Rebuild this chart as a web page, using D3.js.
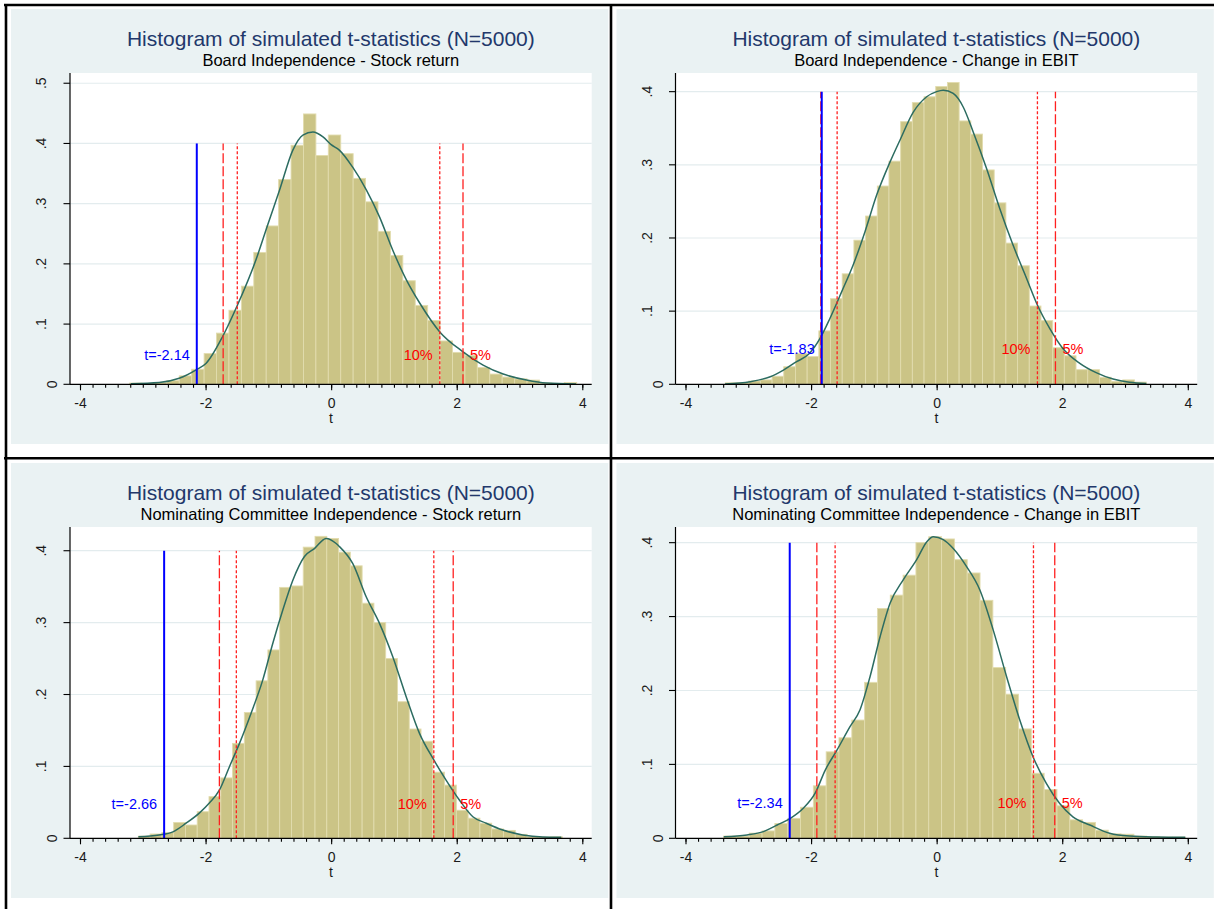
<!DOCTYPE html>
<html>
<head>
<meta charset="utf-8">
<script src="https://cdn.jsdelivr.net/npm/d3@7"></script>
<style>
body { margin: 0; background: #fff; }
svg { display: block; font-family: Arial, "Liberation Sans", Helvetica, sans-serif; }
</style>
</head>
<body>
<div class="container"></div>
<script>
const W = 1214, H = 909;

const title = 'Histogram of simulated t-statistics (N=5000)';
const subtitles = [
    'Board Independence - Stock return',
    'Board Independence - Change in EBIT',
    'Nominating Committee Independence - Stock return',
    'Nominating Committee Independence - Change in EBIT',
];
const xTicks = [-4, -2, 0, 2, 4];
const yTicks = [
    [0, .1, .2, .3, .4, .5],
    [0, .1, .2, .3, .4],
    [0, .1, .2, .3, .4],
    [0, .1, .2, .3, .4],
];
const yMax = [0.517, 0.4255, 0.433, 0.4212];

// histogram bins (36 per panel): left edge of first bin and bin width, in t units
const binStart = [-3.21, -3.366, -3.071, -3.393];
const binWidth = [0.1978, 0.1862, 0.1876, 0.2042];

const densBoardRet = [0.002, 0.001, 0.003, 0.006, 0.014, 0.025, 0.051, 0.085, 0.123, 0.163, 0.219, 0.263,
    0.340, 0.397, 0.449, 0.380, 0.414, 0.383, 0.342, 0.303, 0.254, 0.214, 0.172, 0.131,
    0.106, 0.072, 0.053, 0.048, 0.028, 0.017, 0.012, 0.009, 0.007, 0.002, 0.001, 0.003];
const densBoardEbit = [0.002, 0.002, 0.0045, 0.006, 0.011, 0.024, 0.042, 0.038, 0.073, 0.117, 0.151, 0.197,
    0.230, 0.271, 0.305, 0.359, 0.385, 0.393, 0.407, 0.4125, 0.360, 0.342, 0.293, 0.248,
    0.193, 0.162, 0.107, 0.087, 0.050, 0.039, 0.020, 0.020, 0.0096, 0.004, 0.006, 0.003];
const densNomRet = [0.003, 0.006, 0.008, 0.022, 0.0185, 0.037, 0.058, 0.084, 0.132, 0.175, 0.219, 0.262,
    0.349, 0.351, 0.405, 0.420, 0.417, 0.398, 0.379, 0.327, 0.300, 0.250, 0.190, 0.152,
    0.135, 0.092, 0.074, 0.039, 0.028, 0.021, 0.013, 0.011, 0.0055, 0.002, 0.0015, 0.002];
const densNomEbit = [0.003, 0.003, 0.007, 0.010, 0.020, 0.027, 0.042, 0.071, 0.117, 0.136, 0.160, 0.211,
    0.311, 0.329, 0.356, 0.400, 0.408, 0.405, 0.377, 0.359, 0.322, 0.231, 0.195, 0.148,
    0.088, 0.066, 0.044, 0.025, 0.0215, 0.011, 0.006, 0.0055, 0.003, 0.002, 0.0015, 0.0015];

// kernel density curves as [t, density]
const kdeBoardRet = [[-3.19, 0.001], [-2.74, 0.003], [-2.42, 0.010], [-2.15, 0.024], [-1.99, 0.035],
    [-1.73, 0.079], [-1.49, 0.132], [-1.20, 0.206], [-1.01, 0.265], [-0.82, 0.323], [-0.61, 0.389],
    [-0.45, 0.414], [-0.29, 0.419], [-0.13, 0.411], [0.0, 0.398], [0.13, 0.389], [0.34, 0.361],
    [0.56, 0.323], [0.77, 0.278], [0.98, 0.223], [1.20, 0.173], [1.41, 0.135], [1.73, 0.087],
    [2.10, 0.054], [2.42, 0.032], [2.74, 0.017], [3.11, 0.007], [3.43, 0.002], [3.90, 0.0005]];
const kdeBoardEbit = [[-3.37, 0.0005], [-2.97, 0.0036], [-2.65, 0.0104], [-2.44, 0.0195], [-2.23, 0.031],
    [-2.04, 0.041], [-1.855, 0.063], [-1.70, 0.090], [-1.51, 0.127], [-1.33, 0.163], [-1.14, 0.209],
    [-0.954, 0.259], [-0.742, 0.304], [-0.583, 0.334], [-0.372, 0.372], [-0.159, 0.393], [0, 0.400],
    [0.105, 0.402], [0.264, 0.3975], [0.423, 0.379], [0.582, 0.345], [0.795, 0.295], [1.006, 0.240],
    [1.218, 0.190], [1.431, 0.145], [1.606, 0.108], [1.80, 0.0765], [2.01, 0.049], [2.28, 0.0287],
    [2.54, 0.016], [2.81, 0.0072], [3.07, 0.0027], [3.34, 0.001]];
const kdeNomRet = [[-3.07, 0.002], [-2.74, 0.0046], [-2.52, 0.009], [-2.31, 0.021], [-2.10, 0.035],
    [-1.94, 0.049], [-1.78, 0.067], [-1.62, 0.0996], [-1.46, 0.132], [-1.275, 0.174], [-1.09, 0.220],
    [-0.93, 0.271], [-0.77, 0.3175], [-0.61, 0.359], [-0.425, 0.392], [-0.266, 0.403], [-0.08, 0.417],
    [0.08, 0.410], [0.13, 0.406], [0.345, 0.382], [0.558, 0.336], [0.77, 0.299], [0.98, 0.253],
    [1.195, 0.197], [1.407, 0.146], [1.635, 0.109], [1.83, 0.081], [2.045, 0.053], [2.257, 0.030],
    [2.47, 0.021], [2.735, 0.0115], [3.05, 0.0046], [3.37, 0.0018], [3.665, 0.0014]];
const kdeNomEbit = [[-3.39, 0.002], [-3.02, 0.0045], [-2.76, 0.009], [-2.54, 0.018], [-2.33, 0.027],
    [-2.12, 0.041], [-1.935, 0.061], [-1.776, 0.092], [-1.59, 0.119], [-1.38, 0.151], [-1.22, 0.174],
    [-1.06, 0.219], [-0.90, 0.273], [-0.742, 0.318], [-0.53, 0.350], [-0.318, 0.377], [-0.159, 0.401],
    [-0.053, 0.408], [0.105, 0.404], [0.264, 0.392], [0.477, 0.3675], [0.688, 0.336], [0.90, 0.282],
    [1.113, 0.219], [1.324, 0.160], [1.536, 0.110], [1.749, 0.074], [1.96, 0.047], [2.17, 0.029],
    [2.44, 0.018], [2.755, 0.0068], [3.07, 0.003], [3.50, 0.0018], [3.96, 0.0014]];

// observed t and the simulated critical values
const tObserved = [-2.14, -1.83, -2.66, -2.34];
const tLabels = ['t=-2.14', 't=-1.83', 't=-2.66', 't=-2.34'];
const crit5Low = [-1.72, -1.845, -1.78, -1.908];
const crit10Low = [-1.495, -1.585, -1.51, -1.617];
const crit10High = [1.73, 1.605, 1.635, 1.542];
const crit5High = [2.10, 1.892, 1.944, 1.881];
const lineTop = 0.4;
const labelY = 0.048;

const densities = [densBoardRet, densBoardEbit, densNomRet, densNomEbit];
const kdes = [kdeBoardRet, kdeBoardEbit, kdeNomRet, kdeNomEbit];

const origins = [[0, 0], [605.5, 0], [0, 454], [605.5, 454]];
const plot = { left: 70, right: 591.7, top: 73, bottom: 384.3 };
const bgColor = '#eaf2f3';
const barFill = '#cbc486';
const barStroke = '#e2dcae';
const kdeColor = '#2c6c61';
const inkColor = '#1a1a1a';

const svg = d3.select('.container')
    .append('svg')
    .attr('width', W)
    .attr('height', H);

svg.append('rect').attr('width', W).attr('height', H).attr('fill', '#fff');

const fmtY = d => d === 0 ? '0' : d3.format('.1f')(d).replace(/^0/, '');

function drawPanel(i) {
    const [ox, oy] = origins[i];
    const g = svg.append('g').attr('transform', `translate(${ox},${oy})`);

    const x = d3.scaleLinear().domain([-4, 4]).range([80, 582.3]);
    const y = d3.scaleLinear().domain([0, yMax[i]]).range([plot.bottom, plot.top]);

    g.append('rect')
        .attr('x', 11).attr('y', 9)
        .attr('width', Math.min(597.3, W - ox - 11)).attr('height', 435)
        .attr('fill', bgColor);
    g.append('rect')
        .attr('x', plot.left).attr('y', plot.top)
        .attr('width', plot.right - plot.left).attr('height', plot.bottom - plot.top)
        .attr('fill', '#fff');

    // grid
    g.selectAll('.grid')
        .data(yTicks[i].slice(1))
        .enter()
        .append('line')
        .attr('x1', plot.left).attr('x2', plot.right)
        .attr('y1', d => y(d)).attr('y2', d => y(d))
        .attr('stroke', '#e3ecee')
        .attr('stroke-width', 1.2);

    // bars
    const bins = densities[i].map((d, j) => ({ x0: binStart[i] + j * binWidth[i], h: d }));
    const bw = x(binWidth[i]) - x(0);
    g.selectAll('.bar')
        .data(bins)
        .enter()
        .append('rect')
        .attr('x', d => x(d.x0))
        .attr('y', d => y(d.h))
        .attr('width', bw)
        .attr('height', d => plot.bottom - y(d.h))
        .attr('fill', barFill)
        .attr('stroke', barStroke)
        .attr('stroke-width', 0.9);

    // kernel density
    const line = d3.line()
        .x(d => x(d[0]))
        .y(d => y(d[1]))
        .curve(d3.curveMonotoneX);
    g.append('path')
        .attr('d', line(kdes[i]))
        .attr('fill', 'none')
        .attr('stroke', kdeColor)
        .attr('stroke-width', 1.5);

    // critical value lines
    const vlines = [
        { t: crit5Low[i], dash: '10,3' },
        { t: crit10Low[i], dash: '3,2' },
        { t: crit10High[i], dash: '3,2' },
        { t: crit5High[i], dash: '10,3' },
    ];
    g.selectAll('.crit')
        .data(vlines)
        .enter()
        .append('line')
        .attr('x1', d => x(d.t)).attr('x2', d => x(d.t))
        .attr('y1', y(0)).attr('y2', y(lineTop))
        .attr('stroke', '#ff2020')
        .attr('stroke-width', 1.3)
        .attr('stroke-dasharray', d => d.dash);

    g.append('line')
        .attr('x1', x(tObserved[i])).attr('x2', x(tObserved[i]))
        .attr('y1', y(0)).attr('y2', y(lineTop))
        .attr('stroke', '#0000ff')
        .attr('stroke-width', 2);

    // labels
    const lbl = g.append('g').attr('font-size', 14.5).attr('dominant-baseline', 'central');
    lbl.append('text')
        .attr('x', x(tObserved[i]) - 7).attr('y', y(labelY))
        .attr('text-anchor', 'end').attr('fill', '#0000ff')
        .text(tLabels[i]);
    lbl.append('text')
        .attr('x', x(crit10High[i]) - 7).attr('y', y(labelY))
        .attr('text-anchor', 'end').attr('fill', '#ff0000')
        .text('10%');
    lbl.append('text')
        .attr('x', x(crit5High[i]) + 7).attr('y', y(labelY))
        .attr('text-anchor', 'start').attr('fill', '#ff0000')
        .text('5%');

    // x axis
    g.append('line')
        .attr('x1', plot.left).attr('x2', plot.right)
        .attr('y1', plot.bottom).attr('y2', plot.bottom)
        .attr('stroke', '#000').attr('stroke-width', 1.2);
    const xAxis = g.append('g')
        .attr('transform', `translate(0,${plot.bottom})`)
        .call(d3.axisBottom(x).tickValues(xTicks).tickSize(6).tickSizeOuter(0).tickPadding(7.3)
            .tickFormat(d3.format('d')));
    const xMinor = g.append('g')
        .attr('transform', `translate(0,${plot.bottom})`)
        .call(d3.axisBottom(x).tickValues(d3.range(-40, 41, 2).map(d => d / 10)).tickSize(3.5)
            .tickSizeOuter(0).tickFormat(''));
    [xAxis, xMinor].forEach(a => {
        a.select('.domain').remove();
        a.selectAll('line').attr('stroke', '#000').attr('stroke-width', 1.1);
    });
    xAxis.selectAll('text')
        .attr('font-size', 14)
        .attr('fill', inkColor)
        .attr('font-family', 'Arial, "Liberation Sans", sans-serif')
        .text(d => d < 0 ? '-' + Math.abs(d) : d);

    g.append('text')
        .attr('x', (plot.left + plot.right) / 2)
        .attr('y', 422.5)
        .attr('text-anchor', 'middle')
        .attr('font-size', 14)
        .attr('fill', inkColor)
        .text('t');

    // y axis
    g.append('line')
        .attr('x1', plot.left).attr('x2', plot.left)
        .attr('y1', plot.top).attr('y2', plot.bottom)
        .attr('stroke', '#000').attr('stroke-width', 1.2);
    g.selectAll('.ytick')
        .data(yTicks[i])
        .enter()
        .append('line')
        .attr('x1', plot.left - 6.5).attr('x2', plot.left)
        .attr('y1', d => y(d)).attr('y2', d => y(d))
        .attr('stroke', '#000').attr('stroke-width', 1.1);
    g.selectAll('.ylabel')
        .data(yTicks[i])
        .enter()
        .append('text')
        .attr('transform', d => `translate(${d === 0 ? plot.left - 13 : plot.left - 24},${y(d)}) rotate(-90)`)
        .attr('text-anchor', 'middle')
        .attr('font-size', 14)
        .attr('fill', inkColor)
        .text(fmtY);

    // titles
    g.append('text')
        .attr('x', (plot.left + plot.right) / 2)
        .attr('y', 46)
        .attr('text-anchor', 'middle')
        .attr('font-size', 21)
        .attr('fill', '#22386b')
        .text(title);
    g.append('text')
        .attr('x', (plot.left + plot.right) / 2)
        .attr('y', 66)
        .attr('text-anchor', 'middle')
        .attr('font-size', 16.5)
        .attr('fill', '#000')
        .text(subtitles[i]);
}

d3.range(4).forEach(drawPanel);

// table borders
const borders = [
    [6, 4, 6, H], [4, 5, W, 5],
    [611, 4, 611, H], [4, 458.3, W, 458.3],
];
svg.selectAll('.border')
    .data(borders)
    .enter()
    .append('line')
    .attr('x1', d => d[0]).attr('y1', d => d[1])
    .attr('x2', d => d[2]).attr('y2', d => d[3])
    .attr('stroke', '#000')
    .attr('stroke-width', 2.6);
</script>
</body>
</html>
